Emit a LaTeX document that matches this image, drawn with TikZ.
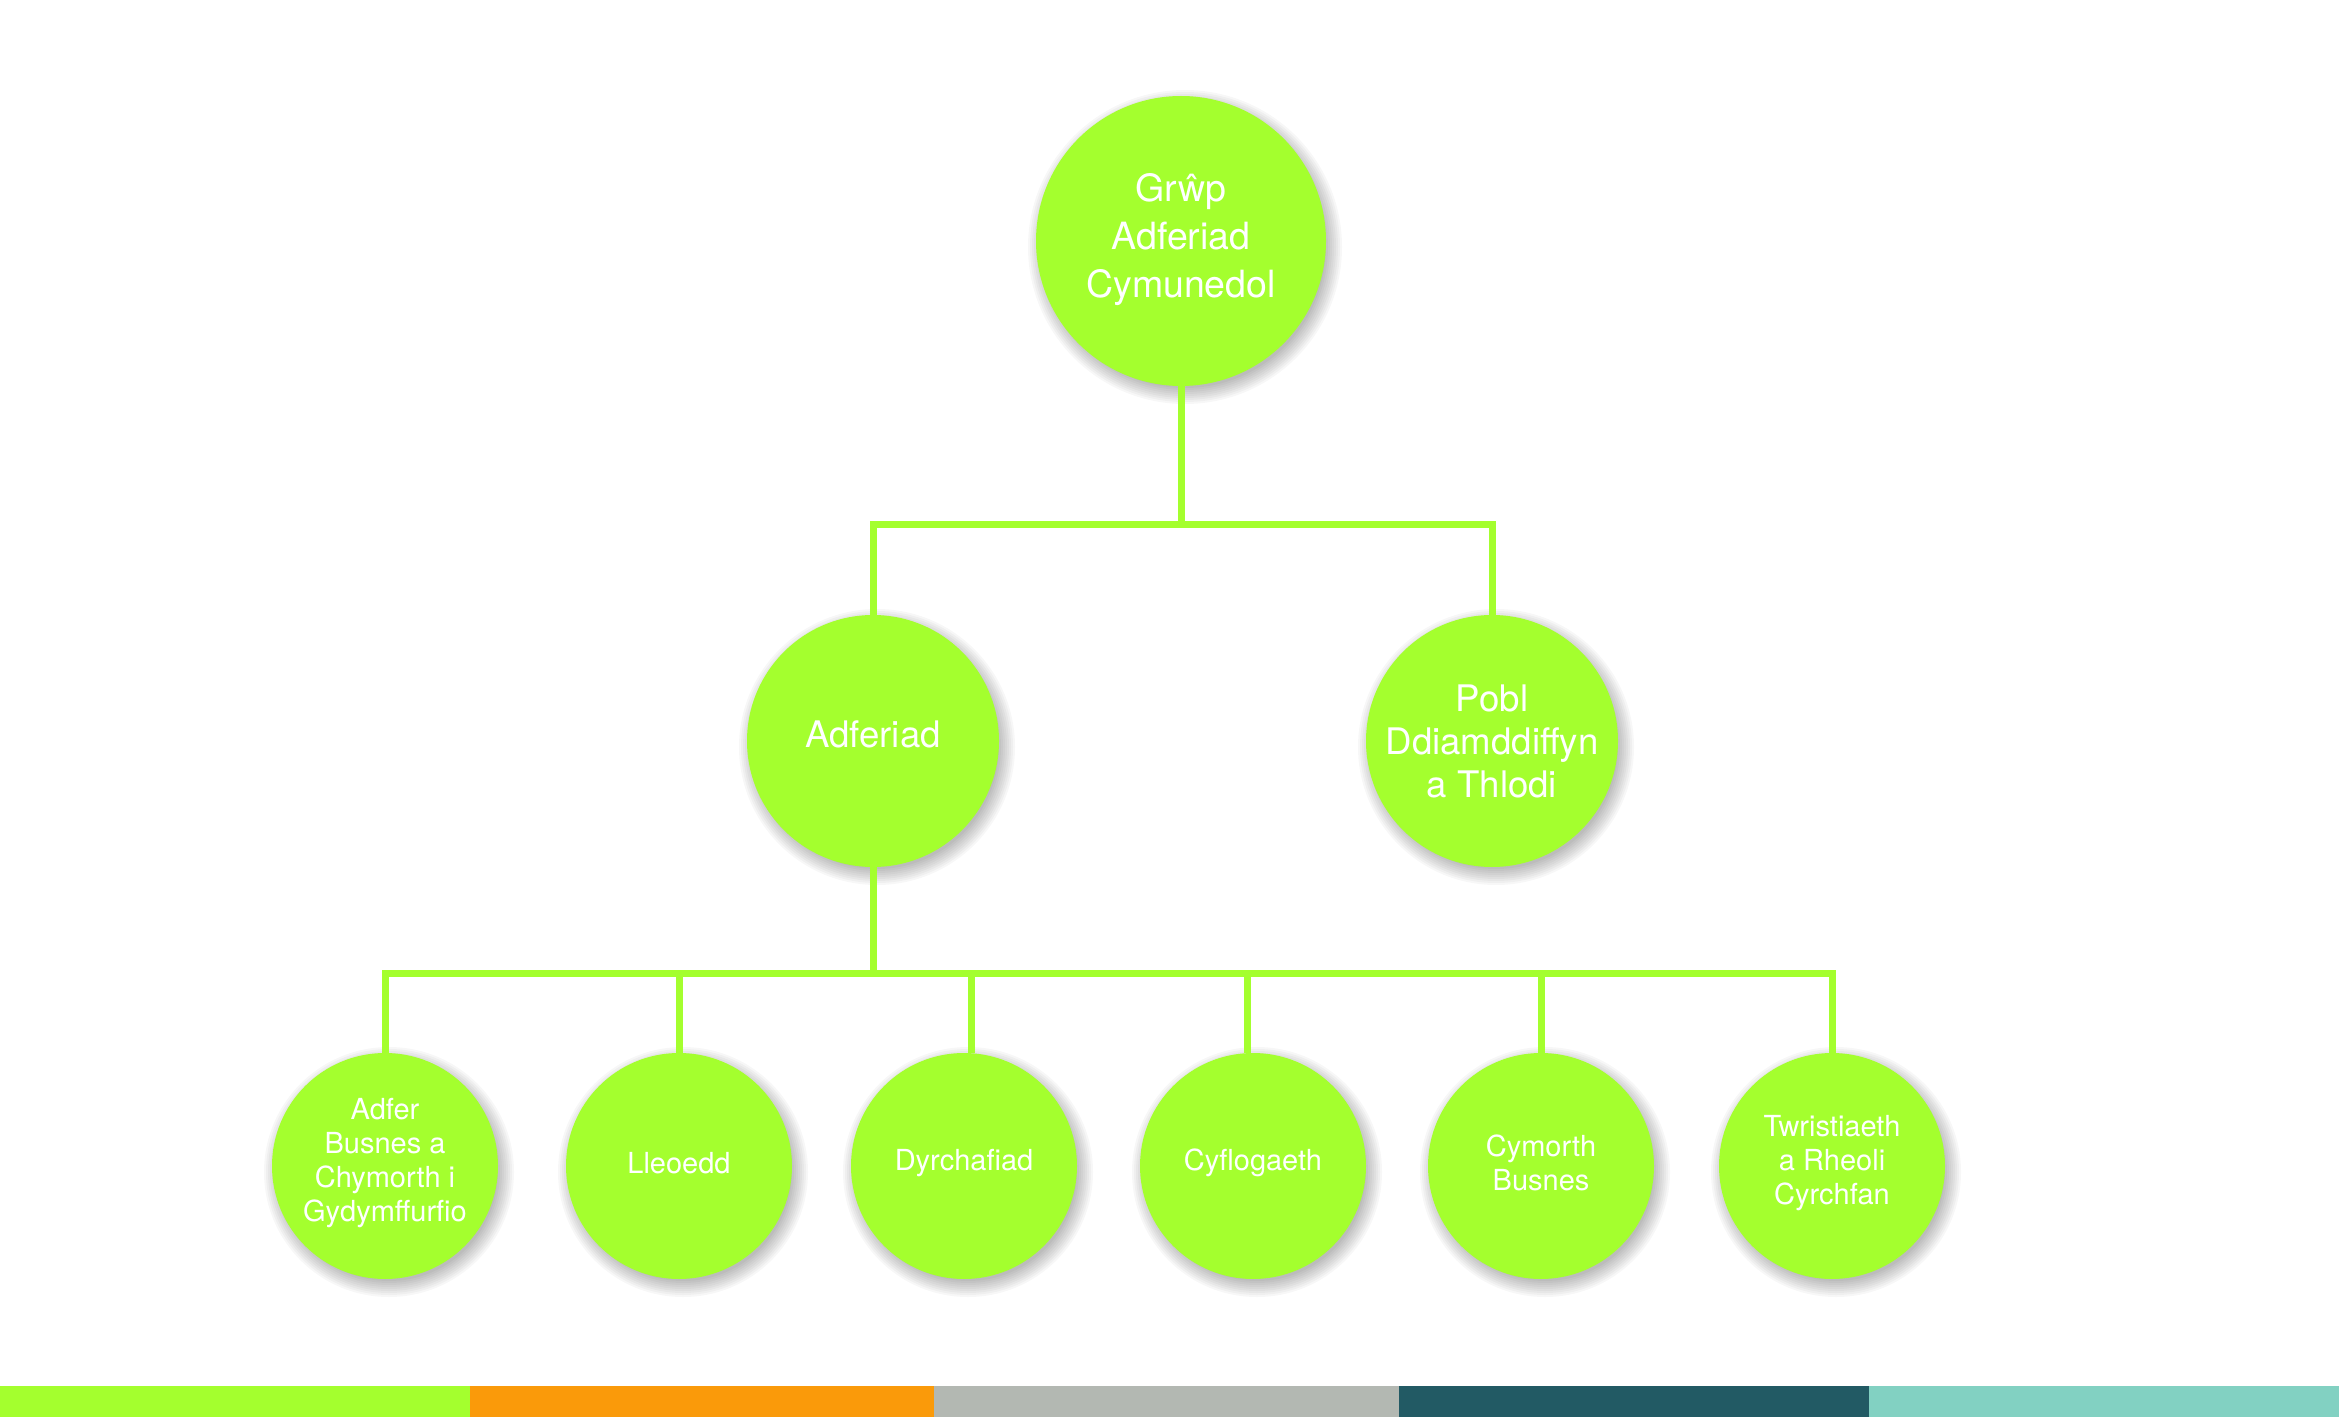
\documentclass[tikz,border=0pt]{standalone}
\usepackage{fontspec}
\setmainfont{TeX Gyre Heros}
\usetikzlibrary{backgrounds}
\definecolor{gbright}{HTML}{A4FF2E}
\definecolor{orangebar}{HTML}{FA9A0A}
\definecolor{graybar}{HTML}{B3B8B2}
\definecolor{tealdark}{HTML}{225A64}
\definecolor{teallight}{HTML}{82D1C2}
\newcommand\softshadow[2]{%
  \foreach \k in {0,...,8}{%
    \fill[black,opacity=0.032] ([xshift=2pt,yshift=-3pt]#1.center) circle[radius={#2pt+6pt-\k pt}];}}
\begin{document}
\begin{tikzpicture}[x=0.5pt,y=-0.5pt,
  bubble/.style={circle, fill=gbright, inner sep=0pt},
  bubbletext/.style={text=white, align=center, inner sep=0pt},
  bigbubble/.style={bubble, minimum size=145pt,
    label={[bubbletext, font=\fontsize{18.75}{24}\selectfont, yshift=0.5pt]center:{#1}}},
  midbubble/.style={bubble, minimum size=126pt,
    label={[bubbletext, font=\fontsize{18.3}{21.5}\selectfont, yshift=0pt]center:{#1}}},
  smallbubble/.style={bubble, minimum size=113pt,
    label={[bubbletext, font=\fontsize{14.5}{17}\selectfont, yshift=1.5pt]center:{#1}}},
  link/.style={draw=gbright, line width=3.5pt}]
\begin{pgfonlayer}{background}
\fill[white] (0,0) rectangle (2339,1417);
\end{pgfonlayer}
\useasboundingbox (0,0) rectangle (2339,1417);

% nodes
\node[bigbubble={Grŵp\\Adferiad\\Cymunedol}] (top) at (1181,241) {};
\node[bubble, minimum size=126pt,
  label={[bubbletext, font=\fontsize{18.3}{21.5}\selectfont, yshift=3.5pt]center:Adferiad}] (adf) at (873,741) {};
\node[midbubble={Pobl\\Ddiamddiffyn\\a Thlodi}] (pob) at (1492,741) {};
\node[smallbubble={Adfer\\Busnes a\\Chymorth i\\Gydymffurfio}] (b1) at (385,1166) {};
\node[smallbubble={Lleoedd}] (b2) at (679,1166) {};
\node[smallbubble={Dyrchafiad}] (b3) at (964,1166) {};
\node[smallbubble={Cyflogaeth}] (b4) at (1253,1166) {};
\node[smallbubble={Cymorth\\Busnes}] (b5) at (1541,1166) {};
\node[smallbubble={Twristiaeth\\a Rheoli\\Cyrchfan}] (b6) at (1832,1166) {};

% soft drop shadows
\begin{pgfonlayer}{background}
\softshadow{top}{72.5}
\softshadow{adf}{63}
\softshadow{pob}{63}
\foreach \n in {b1,b2,b3,b4,b5,b6}{\softshadow{\n}{56.5}}
\end{pgfonlayer}

% connectors
\coordinate (j1) at (1181,524);
\coordinate (j2) at (873,973);
\draw[link] (top.south) -- (j1);
\draw[link] (adf.north) -- (adf.north |- j1) -- (pob.north |- j1) -- (pob.north);
\draw[link] (adf.south) -- (j2);
\draw[link] (b1.north) -- (b1.north |- j2) -- (b6.north |- j2) -- (b6.north);
\draw[link] (b2.north) -- (b2.north |- j2);
\draw[link] ([xshift=3.5pt]b3.north) -- ([xshift=3.5pt]b3.north |- j2);
\draw[link] ([xshift=-3pt]b4.north) -- ([xshift=-3pt]b4.north |- j2);
\draw[link] (b5.north) -- (b5.north |- j2);

% bottom colour bar
\fill[gbright] (0,1386) rectangle (470,1417);
\fill[orangebar] (470,1386) rectangle (934,1417);
\fill[graybar] (934,1386) rectangle (1399,1417);
\fill[tealdark] (1399,1386) rectangle (1869,1417);
\fill[teallight] (1869,1386) rectangle (2339,1417);
\end{tikzpicture}
\end{document}
